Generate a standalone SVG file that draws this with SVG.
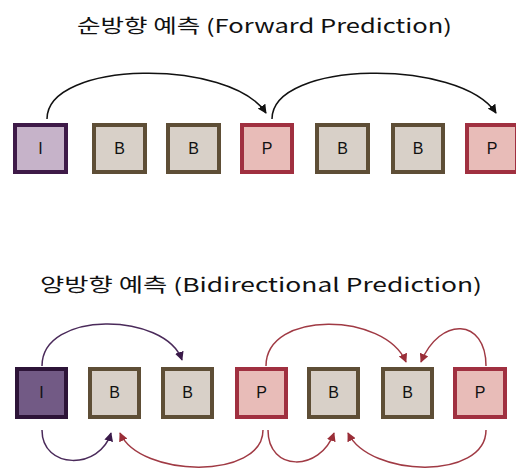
<svg xmlns="http://www.w3.org/2000/svg" width="516" height="469" viewBox="0 0 516 469">
<style>
.t{font-family:"Noto Sans CJK KR","DejaVu Sans",sans-serif;font-size:19px;fill:#111}
.l{font-family:"Liberation Sans","DejaVu Sans",sans-serif;font-size:16px;fill:#111;text-anchor:middle}
.bI{fill:#c6b3c9;stroke:#3e1a48;stroke-width:4}
.bI2{fill:#725a85;stroke:#2d1438;stroke-width:4}
.bB{fill:#d8d0c8;stroke:#5e4e36;stroke-width:4}
.bP{fill:#e8bcb8;stroke:#a03040;stroke-width:4}
.ck{fill:none;stroke:#111;stroke-width:1.5}
.cu{fill:none;stroke:#4a2a5a;stroke-width:1.5}
.cr{fill:none;stroke:#a03a44;stroke-width:1.5}
</style>
<defs>
<marker id="ak" viewBox="0 0 10 10" refX="9" refY="5" markerWidth="9" markerHeight="9" markerUnits="userSpaceOnUse" orient="auto"><path d="M0,0 L10,5 L0,10 z" fill="#111"/></marker>
<marker id="au" viewBox="0 0 10 10" refX="9" refY="5" markerWidth="9" markerHeight="9" markerUnits="userSpaceOnUse" orient="auto"><path d="M0,0 L10,5 L0,10 z" fill="#3a1a4a"/></marker>
<marker id="ar" viewBox="0 0 10 10" refX="9" refY="5" markerWidth="9" markerHeight="9" markerUnits="userSpaceOnUse" orient="auto"><path d="M0,0 L10,5 L0,10 z" fill="#9a2e38"/></marker>
</defs>
<text class="t" x="77" y="33" textLength="375" lengthAdjust="spacingAndGlyphs">순방향 예측 (Forward Prediction)</text>
<text class="t" x="40" y="292" textLength="442" lengthAdjust="spacingAndGlyphs">양방향 예측 (Bidirectional Prediction)</text>
<g id="connectors">
<path class="ck" d="M47,119 C47,60 230,58 266,113" marker-end="url(#ak)"/>
<path class="ck" d="M272,119 C272,60 460,58 496,113" marker-end="url(#ak)"/>
<path class="cu" d="M42,366 C42,310 165,312 182,360" marker-end="url(#au)"/>
<path class="cr" d="M266,366 C266,310 385,312 406,362" marker-end="url(#ar)"/>
<path class="cr" d="M486,366 C486,318 440,316 421,362" marker-end="url(#ar)"/>
<path class="cu" d="M42,430 C42,470 100,470 111,433" marker-end="url(#au)"/>
<path class="cr" d="M263,430 C263,480 140,478 120,433" marker-end="url(#ar)"/>
<path class="cr" d="M268,430 C268,472 320,472 334,433" marker-end="url(#ar)"/>
<path class="cr" d="M486,430 C486,480 370,478 348,433" marker-end="url(#ar)"/>
</g>
<g id="f1"><rect class="bI" x="15" y="125" width="51" height="47"/><text class="l" x="40.5" y="154">I</text></g>
<g id="f2"><rect class="bB" x="94" y="125" width="51" height="47"/><text class="l" x="119.5" y="154">B</text></g>
<g id="f3"><rect class="bB" x="168" y="125" width="51" height="47"/><text class="l" x="193.5" y="154">B</text></g>
<g id="f4"><rect class="bP" x="242" y="125" width="50" height="47"/><text class="l" x="267" y="154">P</text></g>
<g id="f5"><rect class="bB" x="317" y="125" width="51" height="47"/><text class="l" x="342.5" y="154">B</text></g>
<g id="f6"><rect class="bB" x="393" y="125" width="50" height="47"/><text class="l" x="418" y="154">B</text></g>
<g id="f7"><rect class="bP" x="467" y="125" width="50" height="47"/><text class="l" x="492" y="154">P</text></g>
<g id="g1"><rect class="bI2" x="17" y="369" width="49" height="48"/><text class="l" x="41.5" y="398">I</text></g>
<g id="g2"><rect class="bB" x="90" y="369" width="49" height="48"/><text class="l" x="114.5" y="398">B</text></g>
<g id="g3"><rect class="bB" x="163" y="369" width="49" height="48"/><text class="l" x="187.5" y="398">B</text></g>
<g id="g4"><rect class="bP" x="237" y="369" width="49" height="48"/><text class="l" x="261.5" y="398">P</text></g>
<g id="g5"><rect class="bB" x="309" y="369" width="49" height="48"/><text class="l" x="333.5" y="398">B</text></g>
<g id="g6"><rect class="bB" x="383" y="369" width="49" height="48"/><text class="l" x="407.5" y="398">B</text></g>
<g id="g7"><rect class="bP" x="455" y="369" width="50" height="48"/><text class="l" x="480" y="398">P</text></g>
</svg>
